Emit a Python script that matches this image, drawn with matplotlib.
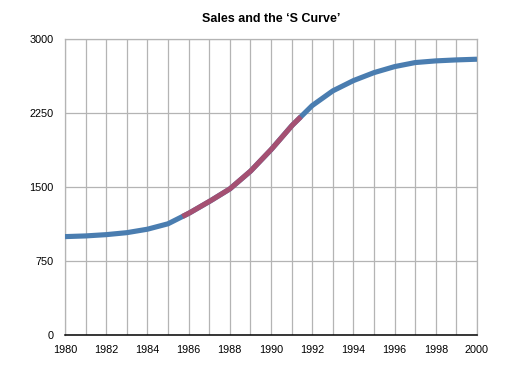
import numpy as np
import matplotlib
matplotlib.use("Agg")
import matplotlib.pyplot as plt

years = list(range(1980, 2001))
sales = [1000, 1007, 1020, 1040, 1075, 1130, 1235, 1355, 1483, 1662, 1880,
         2122, 2328, 2477, 2581, 2662, 2723, 2764, 2781, 2791, 2798]
highlight_range = [1985.7, 1991.45]
y_ticks = [0, 750, 1500, 2250, 3000]
x_ticks = list(range(1980, 2001, 2))
title = "Sales and the \u2018S Curve\u2019"

plt.rcParams['font.family'] = ['Liberation Sans', 'DejaVu Sans']

fig = plt.figure(figsize=(5.17, 3.72), dpi=100)
ax = fig.add_axes([0.1257, 0.0987, 0.7969, 0.7957])

ax.plot(years, sales, color='#4a7db0', lw=3.7, solid_capstyle='butt',
        solid_joinstyle='round', zorder=3)

hx = np.linspace(highlight_range[0], highlight_range[1], 200)
hy = np.interp(hx, years, sales)
ax.plot(hx, hy, color='#a55072', lw=3.7, solid_capstyle='butt',
        solid_joinstyle='round', zorder=4)

ax.set_xlim(1980, 2000)
ax.set_ylim(0, 3000)
ax.set_xticks(years, minor=False)
ax.set_xticklabels([str(y) if y in x_ticks else '' for y in years])
ax.set_yticks(y_ticks)
ax.set_yticklabels([str(v) for v in y_ticks])
ax.grid(True, color='#b4b4b4', lw=0.9)
ax.set_axisbelow(True)
ax.tick_params(axis='both', length=0, labelsize=7.8, colors='black')
ax.tick_params(axis='x', pad=7)
ax.tick_params(axis='y', pad=8)
for s in ['top', 'right', 'left']:
    ax.spines[s].set_color('#b4b4b4')
    ax.spines[s].set_linewidth(0.9)
ax.spines['bottom'].set_color('black')
ax.spines['bottom'].set_linewidth(1.1)

fig.text(0.5 * (0.1257 + 0.9226), 1 - 19 / 372, title, ha='center', va='center',
         fontsize=9, fontweight='bold')

fig.savefig('out.png', dpi=100, facecolor='white')
